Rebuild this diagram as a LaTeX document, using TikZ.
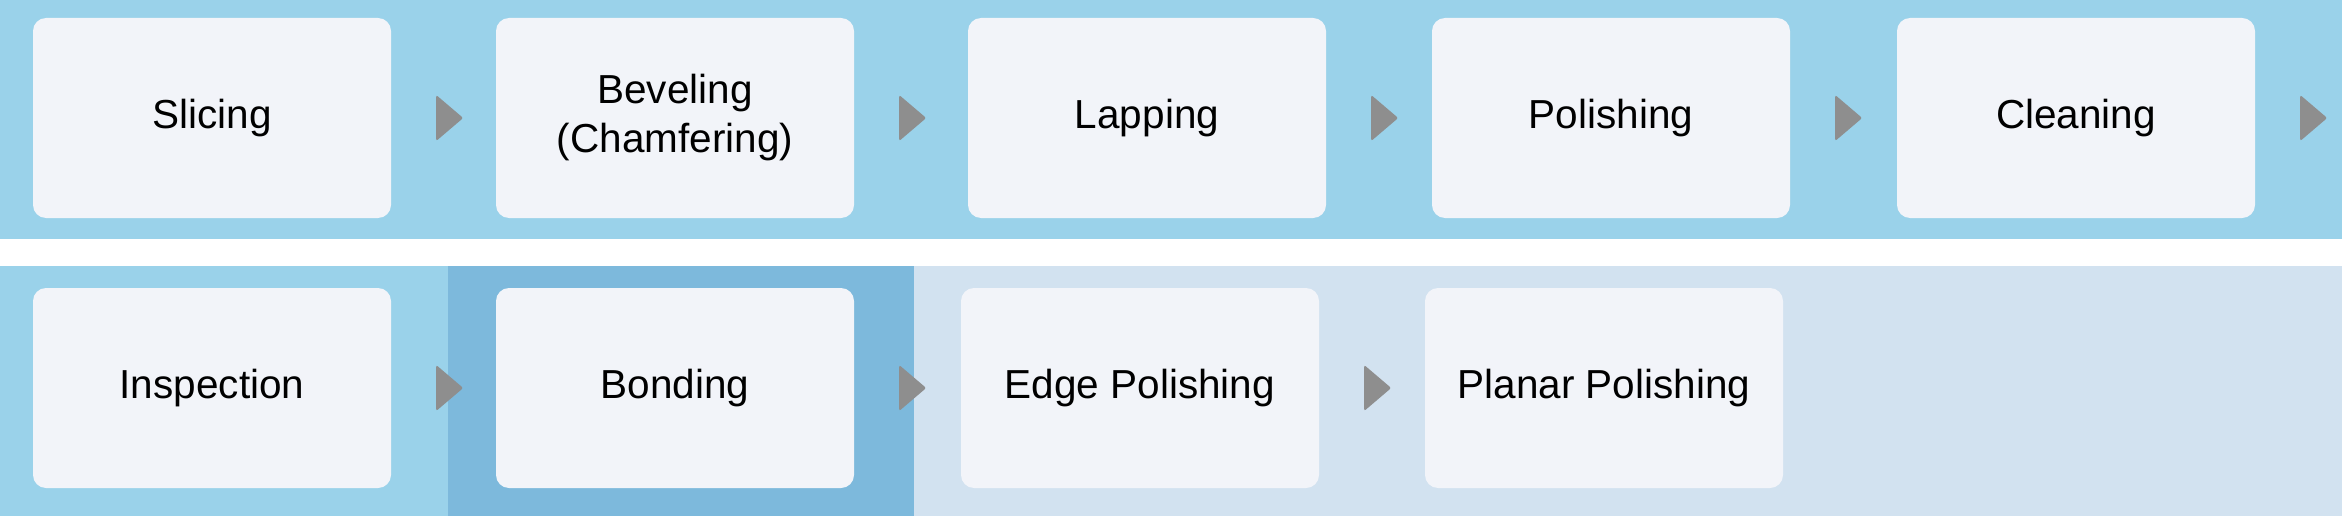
\documentclass[tikz,border=0pt]{standalone}
\usepackage{fontspec}
\setmainfont{Liberation Sans}
\definecolor{bandA}{HTML}{9AD2EA}
\definecolor{bandB}{HTML}{7DB9DC}
\definecolor{bandC}{HTML}{D2E2F0}
\definecolor{boxc}{HTML}{F2F4F9}
\definecolor{arrowc}{HTML}{8E8E8E}
\tikzset{
  stepbox/.style={fill=boxc, rounded corners=13pt, minimum width=358pt, minimum height=200pt,
    inner sep=0pt, align=center, font=\fontsize{40.5}{49}\selectfont, text=black},
  tri/.style={fill=arrowc, rounded corners=2pt}
}
\newcommand{\tri}[1]{\fill[tri] ([xshift=45pt,yshift=23pt]#1.east) -- ++(27pt,-23pt) -- ++(-27pt,-23pt) -- cycle;}
\begin{document}
\begin{tikzpicture}[x=1pt,y=-1pt]
\useasboundingbox (0,0) rectangle (2342,516);
\fill[white] (0,0) rectangle (2342,516);
\fill[bandA] (0,0) rectangle (2342,239);
\fill[bandA] (0,266) rectangle (448,516);
\fill[bandB] (448,266) rectangle (914,516);
\fill[bandC] (914,266) rectangle (2342,516);
% top row
\node[stepbox] (s1) at (212,118) {Slicing};
\node[stepbox] (s2) at (675,118) {Beveling\\(Chamfering)};
\node[stepbox] (s3) at (1147,118) {Lapping};
\node[stepbox] (s4) at (1611,118) {Polishing};
\node[stepbox] (s5) at (2076,118) {Cleaning};
% bottom row
\node[stepbox] (b1) at (212,388) {Inspection};
\node[stepbox] (b2) at (675,388) {Bonding};
\node[stepbox] (b3) at (1140,388) {Edge Polishing};
\node[stepbox] (b4) at (1604,388) {Planar Polishing};
% arrows
\tri{s1}\tri{s2}\tri{s3}\tri{s4}\tri{s5}
\tri{b1}\tri{b2}\tri{b3}
\end{tikzpicture}
\end{document}
